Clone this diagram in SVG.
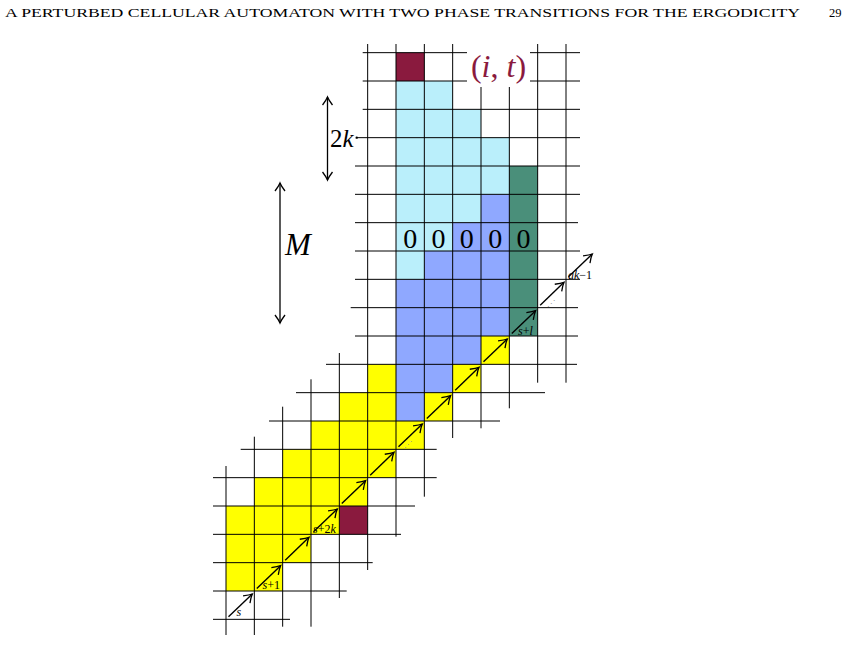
<svg xmlns="http://www.w3.org/2000/svg" width="851" height="662" viewBox="0 0 851 662">
<style>
.g{stroke:#000;stroke-width:1;fill:none}
.ar{stroke:#000;stroke-width:1.4;fill:none;marker-end:url(#ah)}
.da{stroke:#000;stroke-width:1.3;fill:none;marker-end:url(#ah);marker-start:url(#ah)}
.mar{fill:#8A1A3E}
.cy{fill:#BAEFFB}
.bl{fill:#8FA8FF}
.te{fill:#4A8F7A}
.ye{fill:#FFFF00}
.t{font-family:"Liberation Serif",serif;fill:#000}
.it{font-style:italic}
.sm{font-family:"Liberation Serif",serif;font-style:italic;font-size:12px;fill:#000}
.dots{font-family:"DejaVu Sans",sans-serif;font-size:8px;fill:#999}
</style>
<defs>
<marker id="ah" viewBox="-10 -6 12 12" refX="0" refY="0" markerWidth="12" markerHeight="12" markerUnits="userSpaceOnUse" orient="auto-start-reverse">
<path d="M-8,-5 Q-3,-1.2 0,0 Q-3,1.2 -8,5" fill="none" stroke="#000" stroke-width="1.3"/>
</marker>
</defs>
<rect width="851" height="662" fill="#fff"/>
<text class="t" x="5" y="17" font-size="12.5" textLength="795" lengthAdjust="spacingAndGlyphs">A PERTURBED CELLULAR AUTOMATON WITH TWO PHASE TRANSITIONS FOR THE ERGODICITY</text>
<text class="t" x="829" y="17" font-size="12.5">29</text>

<g id="cells">
<rect class="mar" x="396" y="52.67" width="28.33" height="28.33"/>
<rect class="mar" x="339.33" y="506" width="28.33" height="28.33"/>
<rect class="cy" x="396" y="81" width="28.33" height="198.33"/>
<rect class="cy" x="424.33" y="81" width="28.33" height="170"/>
<rect class="cy" x="452.67" y="109.33" width="28.33" height="113.33"/>
<rect class="cy" x="481" y="137.67" width="28.33" height="56.67"/>
<rect class="te" x="509.33" y="166" width="28.33" height="170"/>
<rect class="bl" x="481" y="194.33" width="28.33" height="141.67"/>
<rect class="bl" x="452.67" y="222.67" width="28.33" height="141.67"/>
<rect class="bl" x="424.33" y="251" width="28.33" height="141.67"/>
<rect class="bl" x="396" y="279.33" width="28.33" height="141.67"/>
<rect class="ye" x="481" y="336" width="28.33" height="28.33"/>
<rect class="ye" x="452.67" y="364.33" width="28.33" height="28.33"/>
<rect class="ye" x="424.33" y="392.67" width="28.33" height="28.33"/>
<rect class="ye" x="396" y="421" width="28.33" height="28.33"/>
<rect class="ye" x="367.67" y="364.33" width="28.33" height="113.33"/>
<rect class="ye" x="339.33" y="392.67" width="28.33" height="113.33"/>
<rect class="ye" x="311" y="421" width="28.33" height="113.33"/>
<rect class="ye" x="282.67" y="449.33" width="28.33" height="113.33"/>
<rect class="ye" x="254.33" y="477.67" width="28.33" height="113.33"/>
<rect class="ye" x="226" y="506" width="28.33" height="85"/>
</g>

<g id="grid" class="g">
<line x1="362.7" y1="52.67" x2="580" y2="52.67"/>
<line x1="362.7" y1="81" x2="580" y2="81"/>
<line x1="362.7" y1="109.33" x2="580" y2="109.33"/>
<line x1="356.7" y1="137.67" x2="580" y2="137.67"/>
<line x1="355" y1="166" x2="580" y2="166"/>
<line x1="355" y1="194.33" x2="580" y2="194.33"/>
<line x1="355" y1="222.67" x2="578" y2="222.67"/>
<line x1="355" y1="251" x2="580" y2="251"/>
<line x1="355" y1="279.33" x2="580" y2="279.33"/>
<line x1="350.7" y1="307.67" x2="578" y2="307.67"/>
<line x1="355" y1="336" x2="578" y2="336"/>
<line x1="326" y1="364.33" x2="577" y2="364.33"/>
<line x1="296" y1="392.67" x2="545" y2="392.67"/>
<line x1="269" y1="421" x2="500" y2="421"/>
<line x1="240.7" y1="449.33" x2="436.7" y2="449.33"/>
<line x1="213" y1="477.67" x2="436.7" y2="477.67"/>
<line x1="213" y1="506" x2="415" y2="506"/>
<line x1="213" y1="534.33" x2="401" y2="534.33"/>
<line x1="213" y1="562.67" x2="372.7" y2="562.67"/>
<line x1="213" y1="591" x2="346.7" y2="591"/>
<line x1="213" y1="619.33" x2="290" y2="619.33"/>
<line x1="226" y1="466" x2="226" y2="635"/>
<line x1="254.33" y1="436.7" x2="254.33" y2="635"/>
<line x1="282.67" y1="406.7" x2="282.67" y2="626.7"/>
<line x1="311" y1="379.3" x2="311" y2="626.7"/>
<line x1="339.33" y1="353" x2="339.33" y2="598"/>
<line x1="367.67" y1="44" x2="367.67" y2="570"/>
<line x1="396" y1="44" x2="396" y2="536.7"/>
<line x1="424.33" y1="44" x2="424.33" y2="496.7"/>
<line x1="452.67" y1="44" x2="452.67" y2="438"/>
<line x1="481" y1="44" x2="481" y2="428.3"/>
<line x1="509.33" y1="44" x2="509.33" y2="408.3"/>
<line x1="537.67" y1="44" x2="537.67" y2="382.7"/>
<line x1="566" y1="44" x2="566" y2="382.7"/>
<circle cx="356.7" cy="137.67" r="1.2" fill="#000" stroke="none"/>
</g>

<g id="label-it">
<rect x="467" y="38" width="63" height="49" fill="#fff"/>
<text class="t" x="498.5" y="77" font-size="32" text-anchor="middle" style="fill:#8A1A3E">(<tspan class="it">i</tspan>, <tspan class="it">t</tspan>)</text>
</g>

<g id="zeros" class="t" font-size="28" text-anchor="middle">
<text x="410.2" y="248">0</text>
<text x="438.5" y="248">0</text>
<text x="466.8" y="248">0</text>
<text x="495.2" y="248">0</text>
<text x="523.5" y="248">0</text>
</g>

<g id="dim-2k">
<line class="da" x1="327.5" y1="97" x2="327.5" y2="180"/>
<text class="t" x="330" y="147" font-size="25">2<tspan class="it">k</tspan></text>
</g>
<g id="dim-M">
<line class="da" x1="280" y1="183" x2="280" y2="323"/>
<text class="t it" x="285" y="255" font-size="31">M</text>
</g>

<g id="connectors">
<line class="ar" x1="228.5" y1="616.8" x2="252.3" y2="594"/>
<line class="ar" x1="256.8" y1="588.5" x2="280.6" y2="565.7"/>
<line class="ar" x1="285.2" y1="560.2" x2="309" y2="537.3"/>
<line class="ar" x1="313.5" y1="531.8" x2="337.3" y2="509"/>
<line class="ar" x1="341.8" y1="503.5" x2="365.6" y2="480.7"/>
<line class="ar" x1="370.2" y1="475.2" x2="394" y2="452.3"/>
<line class="ar" x1="398.5" y1="446.8" x2="422.3" y2="424"/>
<line class="ar" x1="426.8" y1="418.5" x2="450.6" y2="395.7"/>
<line class="ar" x1="455.2" y1="390.2" x2="479" y2="367.3"/>
<line class="ar" x1="483.5" y1="361.8" x2="507.3" y2="339"/>
<line class="ar" x1="511.8" y1="333.5" x2="535.6" y2="310.7"/>
<line class="ar" x1="540.2" y1="305.2" x2="564" y2="282.3"/>
<line class="ar" x1="568.5" y1="276.8" x2="592.3" y2="254"/>
</g>

<g id="arrow-labels">
<text class="sm" x="236.5" y="616">s</text>
<text class="sm" x="262.5" y="588.5">s<tspan font-style="normal">+1</tspan></text>
<text class="sm" x="313" y="533">s<tspan font-style="normal">+2</tspan>k</text>
<text class="dots" x="404" y="447">⋰</text>
<text class="sm" x="518" y="334.5">s<tspan font-style="normal">+</tspan>l</text>
<text class="dots" x="547" y="306">⋰</text>
<text class="sm" x="568" y="278.5">ak<tspan font-style="normal">−1</tspan></text>
</g>
</svg>
